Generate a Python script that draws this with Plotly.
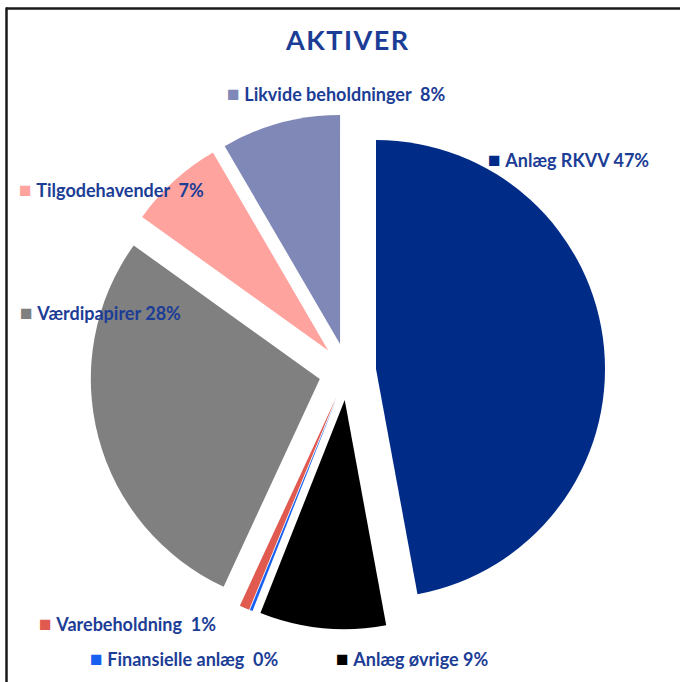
import plotly.graph_objects as go

W, H = 680, 682

# ---- data ----
categories = ["Anlæg RKVV", "Anlæg øvrige", "Finansielle anlæg", "Varebeholdning",
              "Værdipapirer", "Tilgodehavender", "Likvide beholdninger"]
shares = [47.1, 8.9, 0.2, 0.7, 28.0, 6.7, 8.4]
pct_labels = ["47%", "9%", "0%", "1%", "28%", "7%", "8%"]
gap_spaces = [1, 1, 2, 2, 1, 2, 2]
colors = ["#002B87", "#000000", "#1760F0", "#E05A50", "#808080", "#FFA39F", "#8088B8"]
title_text = "AKTIVER"

# label anchor positions in pixels (marker left edge, vertical centre)
label_px = [(486, 158), (334, 657), (88, 657), (37, 622), (18, 311), (17, 189), (225, 92)]

TEXT_COLOR = "#1C3D96"
FONT = "Lato"

# pie geometry (pixels)
cx, cy, r, pull = 347.5, 371.6, 229.0, 0.125
half = r * (1 + pull)

fig = go.Figure()
fig.add_trace(go.Pie(
    labels=categories,
    values=shares,
    sort=False,
    direction="clockwise",
    rotation=0,
    pull=[pull] * len(shares),
    marker=dict(colors=colors, line=dict(width=0)),
    textinfo="none",
    hoverinfo="label+percent",
    showlegend=False,
    domain=dict(x=[(cx - half) / W, (cx + half) / W],
                y=[1 - (cy + half) / H, 1 - (cy - half) / H]),
))

annotations = [dict(
    text="<b><span style='letter-spacing:1.5px'>" + title_text + "</span></b>",
    x=347 / W, y=1 - 40 / H, xref="paper", yref="paper",
    xanchor="center", yanchor="middle", showarrow=False,
    font=dict(family=FONT, size=27, color=TEXT_COLOR),
)]

for cat, pct, gs, col, (px, py) in zip(categories, pct_labels, gap_spaces, colors, label_px):
    sep = "\u00a0" * gs
    txt = (f"<span style='color:{col};font-size:21px'>■</span>\u00a0"
           f"<b>{cat}{sep}{pct}</b>")
    annotations.append(dict(
        text=txt, x=px / W, y=1 - py / H, xref="paper", yref="paper",
        xanchor="left", yanchor="middle", showarrow=False,
        font=dict(family=FONT, size=18, color=TEXT_COLOR),
    ))

shapes = [
    dict(type="line", xref="paper", yref="paper",
         x0=6 / W, x1=1, y0=1 - 8.5 / H, y1=1 - 8.5 / H,
         line=dict(color="#1a1a1a", width=2.5)),
    dict(type="line", xref="paper", yref="paper",
         x0=6.5 / W, x1=6.5 / W, y0=0, y1=1 - 7.5 / H,
         line=dict(color="#1a1a1a", width=2.5)),
]

fig.update_layout(
    width=W, height=H,
    margin=dict(l=0, r=0, t=0, b=0),
    paper_bgcolor="white", plot_bgcolor="white",
    annotations=annotations, shapes=shapes,
)

fig.write_html("out.html",
               config={"displayModeBar": False},
               post_script="document.body.style.margin='0';document.body.style.overflow='hidden';")
